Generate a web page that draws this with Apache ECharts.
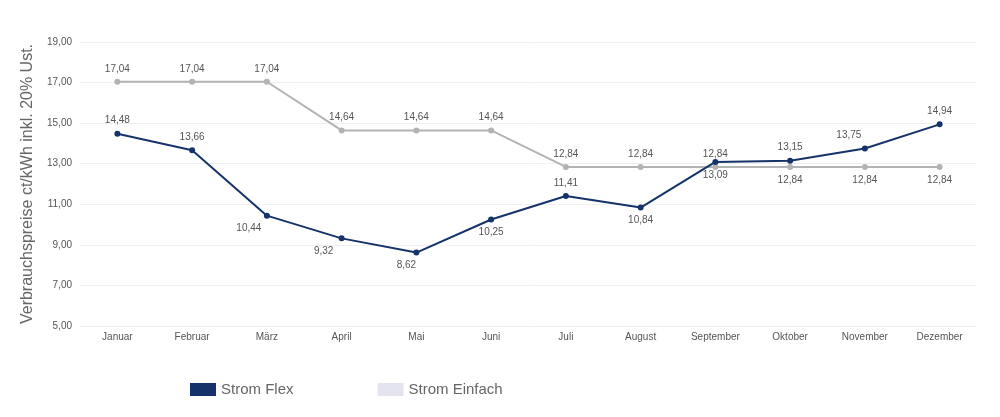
<!DOCTYPE html>
<html>
<head>
<meta charset="utf-8">
<script src="https://cdn.jsdelivr.net/npm/echarts@6/dist/echarts.min.js"></script>
<style>html,body{margin:0;padding:0;background:#fff}#c{width:1000px;height:417px}</style>
</head>
<body>
<div id="c"></div>
<script>
const categories = ['Januar','Februar','März','April','Mai','Juni','Juli','August','September','Oktober','November','Dezember'];
const flexValues = [14.48, 13.66, 10.44, 9.32, 8.62, 10.25, 11.41, 10.84, 13.09, 13.15, 13.75, 14.94];
const einfachValues = [17.04, 17.04, 17.04, 14.64, 14.64, 14.64, 12.84, 12.84, 12.84, 12.84, 12.84, 12.84];
const flexLabelPos = ['top','top','bottom','bottom','bottom','bottom','top','bottom','bottom','top','top','top'];
const flexLabelDx = [0, 0, -18, -18, -10, 0, 0, 0, 0, 0, -16, 0];
const einfachLabelPos = ['top','top','top','top','top','top','top','top','top','bottom','bottom','bottom'];
const yTicks = [5, 7, 9, 11, 13, 15, 17, 19];

const fmt = v => v.toFixed(2).replace('.', ',');
const FONT = '"Liberation Sans", Arial, sans-serif';

function build(values, pos, dx) {
  return values.map((v, i) => ({
    value: v,
    label: { position: pos[i], offset: [dx ? dx[i] : 0, 0] }
  }));
}

const chart = echarts.init(document.getElementById('c'));
chart.setOption({
  animation: false,
  textStyle: { fontFamily: FONT },
  grid: { left: 80, right: 23, top: 42, bottom: 91 },
  legend: {
    left: 185, top: 377,
    itemWidth: 26, itemHeight: 13, itemGap: 84,
    icon: 'rect',
    textStyle: { fontSize: 15, color: '#666', fontFamily: FONT },
    data: [
      { name: 'Strom Flex', itemStyle: { color: '#15336a' } },
      { name: 'Strom Einfach', itemStyle: { color: '#e4e4ee' } }
    ]
  },
  xAxis: {
    type: 'category',
    data: categories,
    boundaryGap: true,
    axisLine: { show: false },
    axisTick: { show: false },
    axisLabel: { color: '#555', fontSize: 10, margin: 6 }
  },
  yAxis: {
    type: 'value',
    min: yTicks[0], max: yTicks[yTicks.length - 1], interval: 2,
    name: 'Verbrauchspreise ct/kWh inkl. 20% Ust.',
    nameLocation: 'middle',
    nameGap: 40,
    nameTextStyle: { fontSize: 16, color: '#666', fontFamily: FONT },
    axisLine: { show: false },
    axisTick: { show: false },
    axisLabel: { color: '#555', fontSize: 10, margin: 8, formatter: v => fmt(v) },
    splitLine: { lineStyle: { color: '#f0f0f0', width: 1 } }
  },
  series: [
    {
      name: 'Strom Einfach',
      type: 'line',
      data: build(einfachValues, einfachLabelPos),
      symbol: 'circle', symbolSize: 6,
      lineStyle: { color: '#b3b3b3', width: 2 },
      itemStyle: { color: '#b3b3b3' },
      label: { show: true, color: '#555', fontSize: 10, distance: 5, formatter: p => fmt(p.value) }
    },
    {
      name: 'Strom Flex',
      type: 'line',
      data: build(flexValues, flexLabelPos, flexLabelDx),
      symbol: 'circle', symbolSize: 6,
      lineStyle: { color: '#15336a', width: 2 },
      itemStyle: { color: '#15336a' },
      label: { show: true, color: '#555', fontSize: 10, distance: 5, formatter: p => fmt(p.value) }
    }
  ]
});
</script>
</body>
</html>
